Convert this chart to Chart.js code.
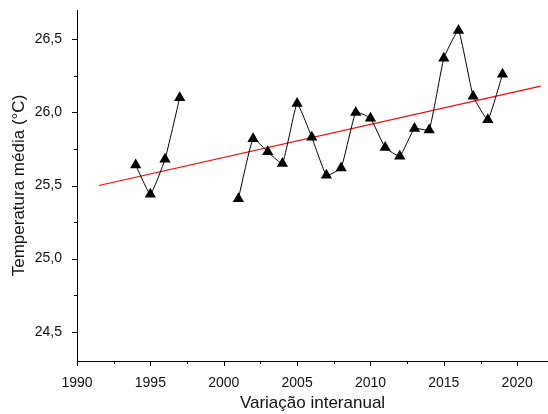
<!DOCTYPE html>
<html>
<head>
<meta charset="utf-8">
<script src="https://cdn.jsdelivr.net/npm/chart.js@4.4.1/dist/chart.umd.min.js"></script>
<style>
  html, body { margin: 0; padding: 0; background: #fff; }
  #wrap { width: 548px; height: 414px; }
</style>
</head>
<body>
<div id="wrap"><canvas id="chart"></canvas></div>
<script>
// Annual mean temperature (null = missing years)
const years = [1994, 1995, 1996, 1997, 1998, 1999, 2000, 2001, 2002, 2003, 2004, 2005, 2006,
  2007, 2008, 2009, 2010, 2011, 2012, 2013, 2014, 2015, 2016, 2017, 2018, 2019];
const temps = [25.64, 25.44, 25.68, 26.10, null, null, null, 25.41, 25.82, 25.73, 25.65, 26.06, 25.83,
  25.57, 25.62, 26.00, 25.96, 25.76, 25.70, 25.89, 25.88, 26.37, 26.56, 26.11, 25.95, 26.26];

// Linear trend (end points)
const trendX = [1991.5, 2021.6];
const trendY = [25.50, 26.18];

// Axis ticks
const xTicks = [1990, 1992.5, 1995, 1997.5, 2000, 2002.5, 2005, 2007.5, 2010, 2012.5, 2015, 2017.5, 2020];
const yTicks = [24.5, 24.75, 25.0, 25.25, 25.5, 25.75, 26.0, 26.25, 26.5];

const FONT = "'Liberation Sans', Arial, sans-serif";

const isMajorX = v => Math.abs(v % 5) < 1e-6;
const isMajorY = v => Math.abs((v * 2) % 1) < 1e-6;

// fixed axis box sizes, no extra label padding
function fixBox(s, w, h) {
  if (w != null) s.width = w;
  if (h != null) s.height = h;
  s.paddingTop = 0;
  s.paddingBottom = 0;
  s.paddingLeft = 0;
  s.paddingRight = 0;
}

// Draw outward tick marks (long major, short minor) like Origin
const tickMarks = {
  id: 'tickMarks',
  afterDraw(chart) {
    const ctx = chart.ctx;
    const x = chart.scales.x;
    const y = chart.scales.y;
    ctx.save();
    ctx.strokeStyle = '#000';
    ctx.lineWidth = 1;
    x.ticks.forEach(t => {
      const px = Math.round(x.getPixelForValue(t.value)) + 0.5;
      const len = isMajorX(t.value) ? 5 : 3;
      ctx.beginPath();
      ctx.moveTo(px, x.top);
      ctx.lineTo(px, x.top + len);
      ctx.stroke();
    });
    y.ticks.forEach(t => {
      const py = Math.round(y.getPixelForValue(t.value)) + 0.5;
      const len = isMajorY(t.value) ? 5 : 3;
      ctx.beginPath();
      ctx.moveTo(y.right, py);
      ctx.lineTo(y.right - len, py);
      ctx.stroke();
    });
    ctx.restore();
  }
};

new Chart(document.getElementById('chart'), {
  type: 'line',
  data: {
    datasets: [
      {
        label: 'Temperatura',
        data: years.map((yr, i) => ({ x: yr, y: temps[i] })),
        borderColor: '#000',
        borderWidth: 1,
        tension: 0.12,
        spanGaps: false,
        pointStyle: 'triangle',
        pointRadius: 6.5,
        pointBackgroundColor: '#000',
        pointBorderColor: '#000',
        pointBorderWidth: 0
      },
      {
        label: 'Tendência',
        data: trendX.map((v, i) => ({ x: v, y: trendY[i] })),
        borderColor: '#ff0000',
        borderWidth: 1.2,
        pointRadius: 0,
        tension: 0
      }
    ]
  },
  options: {
    responsive: true,
    maintainAspectRatio: false,
    animation: false,
    layout: { autoPadding: false, padding: { top: 10, right: 0, left: 0, bottom: 0 } },
    plugins: {
      legend: { display: false },
      tooltip: { enabled: false }
    },
    scales: {
      x: {
        type: 'linear',
        min: 1990,
        max: 2022.1,
        afterFit: s => fixBox(s, null, 53),
        afterBuildTicks: s => { s.ticks = xTicks.map(v => ({ value: v })); },
        grid: { display: false },
        border: { display: true, color: '#000', width: 1 },
        ticks: {
          autoSkip: false,
          maxRotation: 0,
          padding: 6,
          color: '#111',
          font: { family: FONT, size: 14 },
          callback: v => isMajorX(v) ? String(v) : ''
        },
        title: {
          display: true,
          text: 'Variação interanual',
          color: '#111',
          font: { family: FONT, size: 17 },
          padding: { top: 0, bottom: 0 }
        }
      },
      y: {
        type: 'linear',
        min: 24.3,
        max: 26.7,
        afterFit: s => fixBox(s, 77, null),
        afterBuildTicks: s => { s.ticks = yTicks.map(v => ({ value: v })); },
        grid: { display: false },
        border: { display: true, color: '#000', width: 1 },
        ticks: {
          autoSkip: false,
          padding: 7,
          color: '#111',
          font: { family: FONT, size: 14 },
          callback: v => isMajorY(v) ? v.toFixed(1).replace('.', ',') : ''
        },
        title: {
          display: true,
          text: 'Temperatura média (°C)',
          color: '#111',
          font: { family: FONT, size: 17 },
          padding: { top: 9, bottom: 0 }
        }
      }
    }
  },
  plugins: [tickMarks]
});
</script>
</body>
</html>
